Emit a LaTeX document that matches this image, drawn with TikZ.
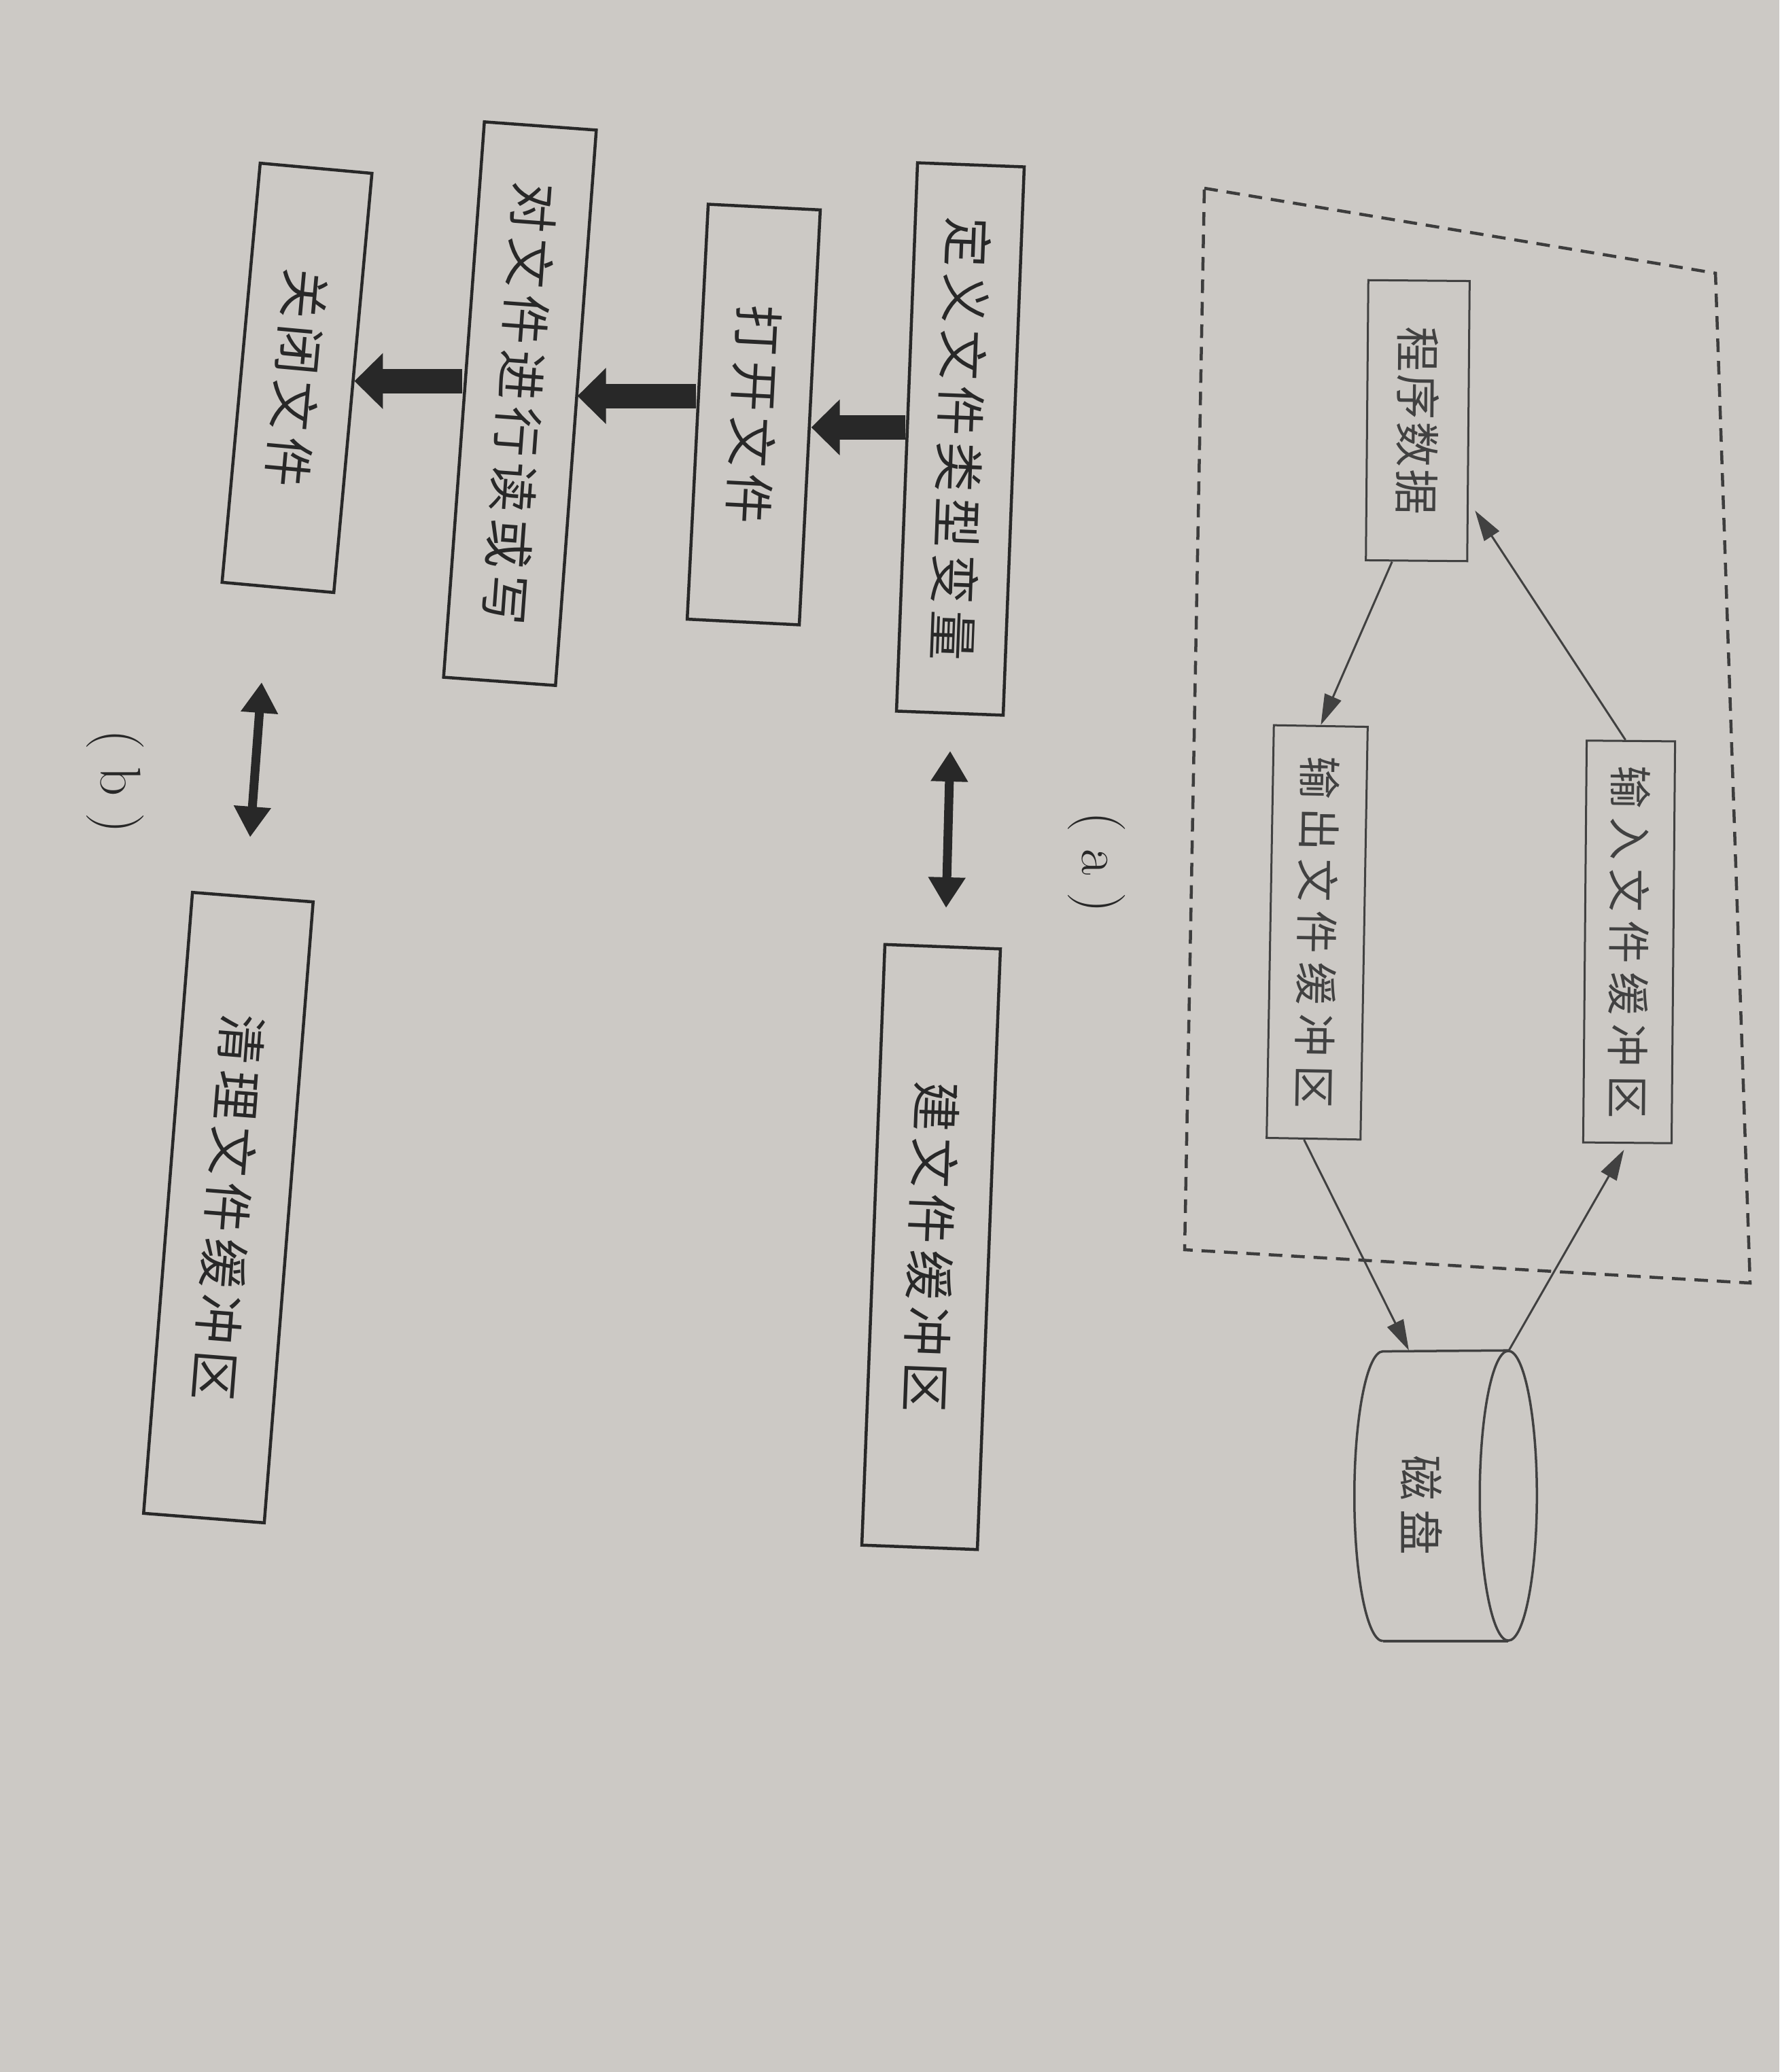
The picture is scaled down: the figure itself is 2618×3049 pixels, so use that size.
\documentclass[tikz,border=0pt]{standalone}
\usepackage{fontspec}
\usepackage{graphicx}
\usetikzlibrary{arrows.meta,calc}
\newfontfamily\cjkA[LetterSpace=12]{Noto Sans CJK SC}
\newfontfamily\cjkB[LetterSpace=20]{Noto Sans CJK SC}
\newfontfamily\cjkC[LetterSpace=5]{Noto Sans CJK SC}
\definecolor{paper}{RGB}{204,201,197}
\definecolor{inkb}{RGB}{40,40,40}
\definecolor{inka}{RGB}{65,65,65}
\newcommand\vtext[3]{\rotatebox{-90}{#1\fontsize{#2}{#2}\selectfont #3}}
\tikzset{
 boxb/.style={draw=inkb, line width=0.045cm, inner sep=0pt, text=inkb},
 boxa/.style={draw=inka, line width=0.03cm, inner sep=0pt, text=inka},
 blockarrow/.style={draw=inkb, line width=0.36cm, -{Triangle[length=0.42cm,width=0.8cm]}},
 dblarrow/.style={draw=inkb, line width=0.13cm, {Triangle[length=0.45cm,width=0.52cm]}-{Triangle[length=0.45cm,width=0.52cm]}},
 thinarrow/.style={draw=inka, line width=0.03cm, -{Triangle[length=0.45cm,width=0.26cm]}},
 dashbox/.style={draw=inkb!90, line width=0.045cm, dash pattern=on 0.2cm off 0.13cm},
 capt/.style={inner sep=0pt, text=inkb},
 diskline/.style={draw=inka, line width=0.035cm},
}
\begin{document}
\begin{tikzpicture}[x=0.01cm, y=-0.01cm]
\fill[paper] (0,0) rectangle (2618,3049);
\useasboundingbox (0,0) rectangle (2618,3049);

% ---------- (a) ----------
\draw[dashbox] (1772,277) -- (2524,402) -- (2575,1888) -- (1743,1839) -- cycle;
\node[boxa, rotate=-0.5, minimum width=1.49cm, minimum height=4.12cm] (prog) at (2086,619) {\vtext{\cjkC}{19pt}{程序数据}};
\node[boxa, rotate=-1, minimum width=1.38cm, minimum height=6.07cm] (out) at (1938,1372) {\vtext{\cjkB}{18pt}{输出文件缓冲区}};
\node[boxa, rotate=-0.5, minimum width=1.30cm, minimum height=5.91cm] (in) at (2397,1386) {\vtext{\cjkB}{18pt}{输入文件缓冲区}};
\node[inner sep=0pt, minimum width=2.67cm, minimum height=4.26cm] (disk) at (2127,2201) {};
\draw[diskline] ([xshift=0.42cm]disk.south west) arc[start angle=270, end angle=90, x radius=0.42cm, y radius=2.13cm] -- ([xshift=-0.42cm]disk.north east);
\draw[diskline] ([xshift=0.42cm]disk.south west) -- ([xshift=-0.42cm]disk.south east);
\draw[diskline] ([xshift=-0.42cm]disk.east) ellipse[x radius=0.42cm, y radius=2.13cm];
\node[capt, text=inka] (disklabel) at (2092,2215) {\vtext{\cjkB}{19pt}{磁盘}};

\draw[thinarrow] ([xshift=-0.36cm]prog.south) -- (out.north);
\draw[thinarrow] ([xshift=-0.14cm]out.south) -- ([xshift=-0.54cm]disk.north);
\draw[thinarrow, shorten >=0.1cm] ([xshift=0.93cm]disk.north) -- (in.south);
\draw[thinarrow, shorten >=0.15cm] ([xshift=-0.08cm]in.north) -- ([yshift=-1.19cm]prog.east);

% ---------- (b) ----------
\node[boxb, rotate=-2.2, minimum width=1.57cm, minimum height=8.07cm] (def) at (1413,646) {\vtext{\cjkA}{21pt}{定义文件类型变量}};
\node[boxb, rotate=-2.2, minimum width=1.70cm, minimum height=8.84cm] (build) at (1370,1835) {\vtext{\cjkA}{21pt}{建文件缓冲区}};
\node[boxb, rotate=-2.9, minimum width=1.65cm, minimum height=6.11cm] (open) at (1109,610) {\vtext{\cjkA}{21pt}{打开文件}};
\node[boxb, rotate=-4.2, minimum width=1.65cm, minimum height=8.19cm] (rw) at (765,594) {\vtext{\cjkA}{21pt}{对文件进行读或写}};
\node[boxb, rotate=-5.2, minimum width=1.65cm, minimum height=6.19cm] (close) at (437,556) {\vtext{\cjkA}{21pt}{关闭文件}};
\node[boxb, rotate=-4.5, minimum width=1.78cm, minimum height=9.16cm] (clean) at (336,1777) {\vtext{\cjkA}{21pt}{清理文件缓冲区}};

\draw[blockarrow] ([yshift=0.14cm]def.west) -- ([yshift=0.14cm]def.west -| open.east);
\draw[blockarrow] ([yshift=0.23cm]open.west) -- ([yshift=0.23cm]open.west -| rw.east);
\draw[blockarrow] ([yshift=0.27cm]rw.west) -- ([yshift=0.27cm]rw.west -| close.east);

\coordinate (da1) at (1398,1105);
\coordinate (da2) at (1392,1336);
\draw[dblarrow] (da1) -- (da2);
\coordinate (db1) at (385,1004);
\coordinate (db2) at (368,1232);
\draw[dblarrow] (db1) -- (db2);

\node[capt] (capa) at (1614,1269) {\rotatebox{-90}{\fontsize{24pt}{24pt}\selectfont ( a )}};
\node[capt] (capb) at (170,1150) {\rotatebox{-90}{\fontsize{24pt}{24pt}\selectfont ( b )}};
\end{tikzpicture}
\end{document}
